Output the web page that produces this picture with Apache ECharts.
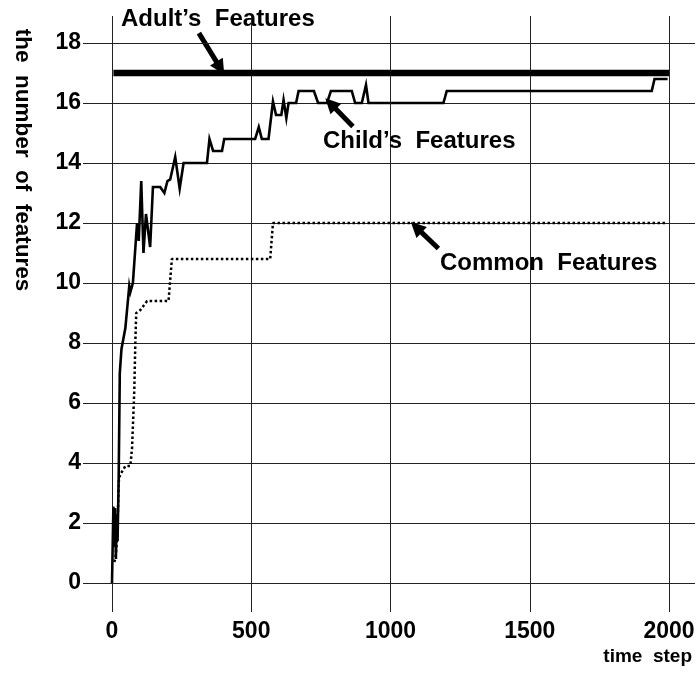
<!DOCTYPE html>
<html>
<head>
<meta charset="utf-8">
<script src="https://cdn.jsdelivr.net/npm/echarts@6/dist/echarts.min.js"></script>
<style>
html,body{margin:0;padding:0;background:#fff;}
#c{width:699px;height:682px;}
</style>
</head>
<body>
<div id="c"></div>
<script>
// ---- data ----
var xTicks = [0, 500, 1000, 1500, 2000];
var yTicks = [0, 2, 4, 6, 8, 10, 12, 14, 16, 18];

var adultX = [5, 2000];
var adultY = [17, 17];

var childX = [0, 5, 8, 11, 14, 17, 20, 24, 28, 34, 40, 48, 58, 62, 66, 75, 90, 96, 105, 113, 122, 137, 147, 173, 188, 199, 209, 227, 243, 257, 341, 350, 363, 395, 403, 514, 527, 538, 562, 578, 589, 608, 616, 626, 634, 661, 670, 725, 740, 772, 786, 861, 873, 897, 912, 921, 1190, 1202, 1938, 1948, 1995];
var childY = [0, 2.55, 1.2, 2.5, 0.8, 2.3, 1.4, 3.5, 7.0, 7.8, 8.1, 8.5, 9.5, 9.9, 9.7, 10.0, 12.0, 11.4, 13.4, 11.0, 12.3, 11.2, 13.2, 13.2, 13.0, 13.4, 13.45, 14.2, 13.15, 14.0, 14.0, 14.8, 14.4, 14.4, 14.8, 14.8, 15.2, 14.8, 14.8, 16.05, 15.6, 15.6, 16.1, 15.5, 16.0, 16.0, 16.4, 16.4, 16.0, 16.0, 16.4, 16.4, 16.0, 16.0, 16.6, 16.0, 16.0, 16.4, 16.4, 16.8, 16.8];

var commonX = [8, 12, 18, 25, 32, 48, 66, 72, 80, 84, 87, 102, 126, 203, 215, 568, 578, 1986];
var commonY = [0.7, 0.8, 1.4, 3.5, 3.65, 3.9, 3.9, 4.5, 6.4, 8.1, 9.0, 9.1, 9.4, 9.4, 10.8, 10.8, 12.0, 12.0];

// annotation arrows: [tailX, tailY, tipX, tipY] in data units
var arrowAdult = [312, 18.33, 403, 16.95];
var arrowChild = [865, 15.22, 766, 16.16];
var arrowCommon = [1172, 11.15, 1073, 12.03];

var labelTexts = ['Adult\u2019s  Features', 'Child\u2019s  Features', 'Common  Features'];
var xName = 'time  step';
var yName = 'the  number  of  features';

function zip(xs, ys) { return xs.map(function (x, i) { return [x, ys[i]]; }); }

var FONT = '"Liberation Sans", Arial, Helvetica, sans-serif';
var INK = '#000';
var GRID = '#222';

var chart = echarts.init(document.getElementById('c'), null, { renderer: 'canvas' });
var fmt = function (v) { return String(v); };
var option = {
  animation: false,
  backgroundColor: '#fff',
  grid: { left: 112, right: 30, top: 43, bottom: 99, containLabel: false },
  xAxis: [
    {
      type: 'value', position: 'bottom', min: 0, max: 2000, interval: 500,
      axisLine: { show: true, onZero: false, lineStyle: { color: GRID, width: 1 } },
      axisTick: { show: true, inside: false, length: 29, lineStyle: { color: GRID, width: 1 } },
      splitLine: { show: true, lineStyle: { color: GRID, width: 1 } },
      axisLabel: { show: true, margin: 37, color: INK, fontFamily: FONT, fontWeight: 'bold', fontSize: 23, formatter: fmt }
    },
    {
      type: 'value', position: 'top', min: 0, max: 2000, interval: 500,
      axisLine: { show: true, onZero: false, lineStyle: { color: GRID, width: 1 } },
      axisTick: { show: true, inside: false, length: 27, lineStyle: { color: GRID, width: 1 } },
      splitLine: { show: false },
      axisLabel: { show: false }
    }
  ],
  yAxis: [
    {
      type: 'value', position: 'left', min: 0, max: 18, interval: 2,
      axisLine: { show: true, onZero: false, lineStyle: { color: GRID, width: 1 } },
      axisTick: { show: true, inside: false, length: 29, lineStyle: { color: GRID, width: 1 } },
      splitLine: { show: true, lineStyle: { color: GRID, width: 1 } },
      axisLabel: { show: true, margin: 31, color: INK, fontFamily: FONT, fontWeight: 'bold', fontSize: 23, formatter: fmt }
    },
    {
      type: 'value', position: 'right', min: 0, max: 18, interval: 2,
      axisLine: { show: true, onZero: false, lineStyle: { color: GRID, width: 1 } },
      axisTick: { show: true, inside: false, length: 26, lineStyle: { color: GRID, width: 1 } },
      splitLine: { show: false },
      axisLabel: { show: false }
    }
  ],
  series: [
    {
      name: 'Adult', type: 'line', xAxisIndex: 0, yAxisIndex: 0,
      data: zip(adultX, adultY), showSymbol: false, symbol: 'none',
      lineStyle: { color: INK, width: 6.5 }
    },
    {
      name: 'Child', type: 'line', xAxisIndex: 0, yAxisIndex: 0,
      data: zip(childX, childY), showSymbol: false, symbol: 'none',
      lineStyle: { color: INK, width: 2.6, join: 'miter' }
    },
    {
      name: 'Common', type: 'line', xAxisIndex: 0, yAxisIndex: 0,
      data: zip(commonX, commonY), showSymbol: false, symbol: 'none',
      lineStyle: { color: INK, width: 2.5, type: [2.5, 2.5] }
    }
  ]
};
chart.setOption(option);

function arrowGraphics(a) {
  var t = chart.convertToPixel({ xAxisIndex: 0, yAxisIndex: 0 }, [a[0], a[1]]);
  var p = chart.convertToPixel({ xAxisIndex: 0, yAxisIndex: 0 }, [a[2], a[3]]);
  var dx = p[0] - t[0], dy = p[1] - t[1];
  var len = Math.sqrt(dx * dx + dy * dy);
  var ux = dx / len, uy = dy / len, nx = -uy, ny = ux;
  var L = 15, W = 7.5;
  var bx = p[0] - ux * L, by = p[1] - uy * L;
  return [
    { type: 'line', shape: { x1: t[0], y1: t[1], x2: bx + ux * 2, y2: by + uy * 2 }, style: { stroke: INK, lineWidth: 5 } },
    { type: 'polygon', shape: { points: [[p[0], p[1]], [bx + nx * W, by + ny * W], [bx - nx * W, by - ny * W]] }, style: { fill: INK } }
  ];
}

var g = [];
[arrowAdult, arrowChild, arrowCommon].forEach(function (a) { g = g.concat(arrowGraphics(a)); });
g.push({ type: 'text', left: 121, top: 7, style: { text: labelTexts[0], fill: INK, font: 'bold 24px ' + FONT } });
g.push({ type: 'text', left: 323, top: 129, style: { text: labelTexts[1], fill: INK, font: 'bold 24px ' + FONT } });
g.push({ type: 'text', left: 440, top: 251, style: { text: labelTexts[2], fill: INK, font: 'bold 24px ' + FONT } });
g.push({ type: 'text', x: 692, y: 657, style: { text: xName, fill: INK, font: 'bold 19px ' + FONT, textAlign: 'right', textVerticalAlign: 'middle' } });
g.push({ type: 'text', x: 22, y: 160, rotation: -Math.PI / 2, style: { text: yName, fill: INK, font: 'bold 22.5px ' + FONT, textAlign: 'center', textVerticalAlign: 'middle' } });
chart.setOption({ graphic: g });
</script>
</body>
</html>
